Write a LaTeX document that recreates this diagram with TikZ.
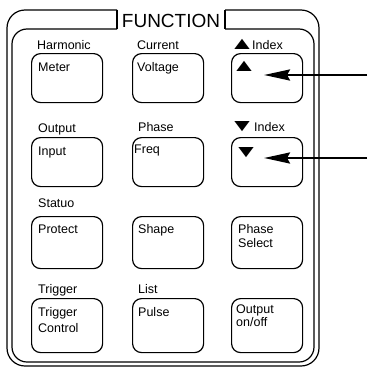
\documentclass[tikz,border=0pt]{standalone}
\usepackage{fontspec}
\setmainfont{Liberation Sans}
\usetikzlibrary{arrows.meta}
\newcommand{\uptri}{\scalebox{2.1}[1.4]{▲}}
\newcommand{\dntri}{\scalebox{2.1}[1.4]{▼}}
\begin{document}
\begin{tikzpicture}[x=1pt,y=-1pt,
  frame/.style={line width=1.2pt},
  btn/.style={draw, line width=1.2pt, rounded corners=9pt, minimum width=71pt, anchor=north west, inner sep=0pt},
  txt/.style={font=\fontsize{12.5}{14}\selectfont, inner sep=0pt, anchor=base west, align=left},
  arr/.style={line width=2.6pt, -{Stealth[length=26pt,width=11pt,inset=3pt]}}]
\useasboundingbox (0,0) rectangle (367,367);
% frames
\draw[frame, rounded corners=18pt] (117,10) -| (7,366) -| (319,10) -- (225,10);
\draw[frame, rounded corners=15pt] (117,29) -| (12,362) -| (314,29) -- (225,29);
\draw[frame] (117,10) -- (117,29);
\draw[frame] (225,10) -- (225,29);
\node[font=\fontsize{19}{20}\selectfont, inner sep=0pt, anchor=base] (title) at (171,27) {FUNCTION};
% buttons
\node[btn, minimum height=49pt] (b11) at (31,53) {};
\node[btn, minimum height=49pt] (b12) at (132,53) {};
\node[btn, minimum height=49pt] (b13) at (231,53) {};
\node[btn, minimum height=49pt] (b21) at (31,137) {};
\node[btn, minimum height=49pt] (b22) at (132,137) {};
\node[btn, minimum height=49pt] (b23) at (231,137) {};
\node[btn, minimum height=52pt] (b31) at (31,216) {};
\node[btn, minimum height=52pt] (b32) at (132,216) {};
\node[btn, minimum height=52pt] (b33) at (231,216) {};
\node[btn, minimum height=54pt] (b41) at (31,298) {};
\node[btn, minimum height=54pt] (b42) at (132,298) {};
\node[btn, minimum height=54pt] (b43) at (231,298) {};
% labels above buttons
\node[txt] (l11) at (37,49) {Harmonic};
\node[txt] (l12) at (137,49) {Current};
\node[txt] (l13) at (229,49) {\uptri\kern-3pt Index};
\node[txt] (l21) at (38,132) {Output};
\node[txt] (l22) at (138,131) {Phase};
\node[txt] (l23) at (229,131) {\dntri\kern-1pt Index};
\node[txt] (l31) at (38,207) {Statuo};
\node[txt] (l41) at (38,293) {Trigger};
\node[txt] (l42) at (138,293) {List};
% texts in buttons
\node[txt] (t11) at (38,71) {Meter};
\node[txt] (t12) at (137,71) {Voltage};
\node[txt] (t13) at (231,71) {\uptri};
\node[txt] (t21) at (38,155) {Input};
\node[txt] (t22) at (134,153) {Freq};
\node[txt] (t23) at (233,157) {\dntri};
\node[txt] (t31) at (38,233) {Protect};
\node[txt] (t32) at (138,233) {Shape};
\node[txt] (t33) at (238,247) {Phase\\Select};
\node[txt] (t41) at (38,332) {Trigger\\[2pt]Control};
\node[txt] (t42) at (138,316) {Pulse};
\node[txt] (t43) at (236,326) {Output\\[-1pt]on/off};
% arrows
\coordinate (e1) at (367,75);
\coordinate (p1) at (264,75);
\coordinate (e2) at (367,158);
\coordinate (p2) at (264,158);
\draw[arr] (e1) -- (p1);
\draw[arr] (e2) -- (p2);
\end{tikzpicture}
\end{document}
